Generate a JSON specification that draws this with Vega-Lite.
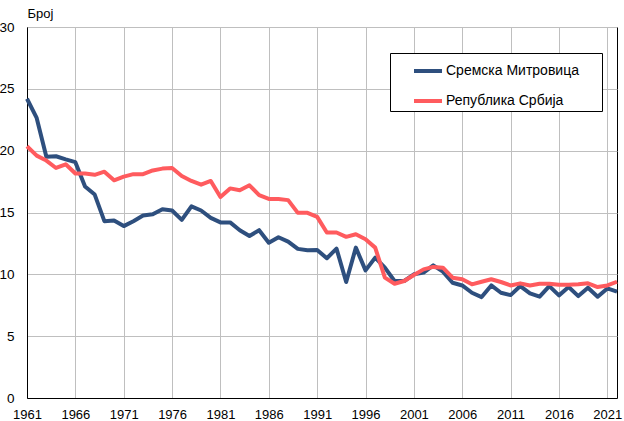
{
  "$schema": "https://vega.github.io/schema/vega-lite/v6.json",
  "width": 590,
  "height": 371,
  "autosize": "none",
  "padding": {"left": 27, "top": 27, "right": 7, "bottom": 23},
  "background": "white",
  "config": {
    "font": "Liberation Sans",
    "view": {"stroke": "black", "strokeWidth": 1}
  },
  "data": {
    "values": [
      {"year":1961,"s":"Сремска Митровица","v":24.2},{"year":1962,"s":"Сремска Митровица","v":22.65},{"year":1963,"s":"Сремска Митровица","v":19.5},{"year":1964,"s":"Сремска Митровица","v":19.55},{"year":1965,"s":"Сремска Митровица","v":19.3},{"year":1966,"s":"Сремска Митровица","v":19.07},{"year":1967,"s":"Сремска Митровица","v":17.1},{"year":1968,"s":"Сремска Митровица","v":16.45},{"year":1969,"s":"Сремска Митровица","v":14.3},{"year":1970,"s":"Сремска Митровица","v":14.35},
      {"year":1971,"s":"Сремска Митровица","v":13.9},{"year":1972,"s":"Сремска Митровица","v":14.3},{"year":1973,"s":"Сремска Митровица","v":14.75},{"year":1974,"s":"Сремска Митровица","v":14.85},{"year":1975,"s":"Сремска Митровица","v":15.27},{"year":1976,"s":"Сремска Митровица","v":15.16},{"year":1977,"s":"Сремска Митровица","v":14.4},{"year":1978,"s":"Сремска Митровица","v":15.5},{"year":1979,"s":"Сремска Митровица","v":15.16},{"year":1980,"s":"Сремска Митровица","v":14.57},
      {"year":1981,"s":"Сремска Митровица","v":14.2},{"year":1982,"s":"Сремска Митровица","v":14.2},{"year":1983,"s":"Сремска Митровица","v":13.57},{"year":1984,"s":"Сремска Митровица","v":13.1},{"year":1985,"s":"Сремска Митровица","v":13.57},{"year":1986,"s":"Сремска Митровица","v":12.55},{"year":1987,"s":"Сремска Митровица","v":13.0},{"year":1988,"s":"Сремска Митровица","v":12.65},{"year":1989,"s":"Сремска Митровица","v":12.06},{"year":1990,"s":"Сремска Митровица","v":11.95},
      {"year":1991,"s":"Сремска Митровица","v":11.97},{"year":1992,"s":"Сремска Митровица","v":11.3},{"year":1993,"s":"Сремска Митровица","v":12.08},{"year":1994,"s":"Сремска Митровица","v":9.38},{"year":1995,"s":"Сремска Митровица","v":12.16},{"year":1996,"s":"Сремска Митровица","v":10.32},{"year":1997,"s":"Сремска Митровица","v":11.35},{"year":1998,"s":"Сремска Митровица","v":10.54},{"year":1999,"s":"Сремска Митровица","v":9.46},{"year":2000,"s":"Сремска Митровица","v":9.46},
      {"year":2001,"s":"Сремска Митровица","v":10.0},{"year":2002,"s":"Сремска Митровица","v":10.14},{"year":2003,"s":"Сремска Митровица","v":10.73},{"year":2004,"s":"Сремска Митровица","v":10.22},{"year":2005,"s":"Сремска Митровица","v":9.32},{"year":2006,"s":"Сремска Митровица","v":9.1},{"year":2007,"s":"Сремска Митровица","v":8.51},{"year":2008,"s":"Сремска Митровица","v":8.16},{"year":2009,"s":"Сремска Митровица","v":9.1},{"year":2010,"s":"Сремска Митровица","v":8.51},
      {"year":2011,"s":"Сремска Митровица","v":8.32},{"year":2012,"s":"Сремска Митровица","v":9.05},{"year":2013,"s":"Сремска Митровица","v":8.46},{"year":2014,"s":"Сремска Митровица","v":8.19},{"year":2015,"s":"Сремска Митровица","v":9.05},{"year":2016,"s":"Сремска Митровица","v":8.3},{"year":2017,"s":"Сремска Митровица","v":8.97},{"year":2018,"s":"Сремска Митровица","v":8.24},{"year":2019,"s":"Сремска Митровица","v":8.92},{"year":2020,"s":"Сремска Митровица","v":8.19},{"year":2021,"s":"Сремска Митровица","v":8.86},{"year":2022,"s":"Сремска Митровица","v":8.6},
      {"year":1961,"s":"Република Србија","v":20.36},{"year":1962,"s":"Република Србија","v":19.6},{"year":1963,"s":"Република Србија","v":19.2},{"year":1964,"s":"Република Србија","v":18.6},{"year":1965,"s":"Република Србија","v":18.9},{"year":1966,"s":"Република Србија","v":18.15},{"year":1967,"s":"Република Србија","v":18.15},{"year":1968,"s":"Република Србија","v":18.05},{"year":1969,"s":"Република Србија","v":18.3},{"year":1970,"s":"Република Србија","v":17.6},
      {"year":1971,"s":"Република Србија","v":17.9},{"year":1972,"s":"Република Србија","v":18.1},{"year":1973,"s":"Република Србија","v":18.1},{"year":1974,"s":"Република Србија","v":18.4},{"year":1975,"s":"Република Србија","v":18.55},{"year":1976,"s":"Република Србија","v":18.6},{"year":1977,"s":"Република Србија","v":17.95},{"year":1978,"s":"Република Србија","v":17.55},{"year":1979,"s":"Република Србија","v":17.25},{"year":1980,"s":"Република Србија","v":17.55},
      {"year":1981,"s":"Република Србија","v":16.25},{"year":1982,"s":"Република Србија","v":16.95},{"year":1983,"s":"Република Србија","v":16.8},{"year":1984,"s":"Република Србија","v":17.2},{"year":1985,"s":"Република Србија","v":16.4},{"year":1986,"s":"Република Србија","v":16.1},{"year":1987,"s":"Република Србија","v":16.1},{"year":1988,"s":"Република Србија","v":16.0},{"year":1989,"s":"Република Србија","v":14.97},{"year":1990,"s":"Република Србија","v":14.97},
      {"year":1991,"s":"Република Србија","v":14.65},{"year":1992,"s":"Република Србија","v":13.38},{"year":1993,"s":"Република Србија","v":13.38},{"year":1994,"s":"Република Србија","v":13.03},{"year":1995,"s":"Република Србија","v":13.24},{"year":1996,"s":"Република Србија","v":12.84},{"year":1997,"s":"Република Србија","v":12.16},{"year":1998,"s":"Република Србија","v":9.73},{"year":1999,"s":"Република Србија","v":9.24},{"year":2000,"s":"Република Србија","v":9.46},
      {"year":2001,"s":"Република Србија","v":9.95},{"year":2002,"s":"Република Србија","v":10.4},{"year":2003,"s":"Република Србија","v":10.6},{"year":2004,"s":"Република Србија","v":10.54},{"year":2005,"s":"Република Србија","v":9.73},{"year":2006,"s":"Република Србија","v":9.6},{"year":2007,"s":"Република Србија","v":9.19},{"year":2008,"s":"Република Србија","v":9.4},{"year":2009,"s":"Република Србија","v":9.6},{"year":2010,"s":"Република Србија","v":9.38},
      {"year":2011,"s":"Република Србија","v":9.1},{"year":2012,"s":"Република Србија","v":9.27},{"year":2013,"s":"Република Србија","v":9.1},{"year":2014,"s":"Република Србија","v":9.24},{"year":2015,"s":"Република Србија","v":9.24},{"year":2016,"s":"Република Србија","v":9.16},{"year":2017,"s":"Република Србија","v":9.16},{"year":2018,"s":"Република Србија","v":9.19},{"year":2019,"s":"Република Србија","v":9.27},{"year":2020,"s":"Република Србија","v":8.97},{"year":2021,"s":"Република Србија","v":9.1},{"year":2022,"s":"Република Србија","v":9.4}
    ]
  },
  "mark": {"type": "line", "strokeWidth": 4, "strokeJoin": "round", "strokeCap": "butt"},
  "encoding": {
    "x": {
      "field": "year", "type": "quantitative",
      "scale": {"domain": [1961, 2022], "nice": false, "zero": false},
      "axis": {
        "title": null,
        "values": [1961,1966,1971,1976,1981,1986,1991,1996,2001,2006,2011,2016,2021],
        "format": "d",
        "grid": true, "gridColor": "#BFBFBF", "gridWidth": 1,
        "domainColor": "black", "domainWidth": 1,
        "ticks": false,
        "labelFontSize": 13, "labelColor": "black", "labelPadding": 10,
        "labelFlush": false
      }
    },
    "y": {
      "field": "v", "type": "quantitative",
      "scale": {"domain": [0, 30], "nice": false},
      "axis": {
        "title": "Број",
        "titleAngle": 0, "titleAlign": "left", "titleBaseline": "alphabetic",
        "titleX": 0, "titleY": -10,
        "titleFontSize": 13, "titleFontWeight": "normal", "titleColor": "black",
        "values": [0,5,10,15,20,25,30],
        "grid": true, "gridColor": "#BFBFBF", "gridWidth": 1,
        "domainColor": "black", "domainWidth": 1,
        "ticks": false,
        "labelFontSize": 13.5, "labelColor": "black", "labelPadding": 13
      }
    },
    "color": {
      "field": "s", "type": "nominal",
      "scale": {"domain": ["Сремска Митровица", "Република Србија"], "range": ["#2E4F7E", "#FF5B5E"]},
      "sort": ["Сремска Митровица", "Република Србија"],
      "legend": {
        "title": null,
        "orient": "none",
        "legendX": 363,
        "legendY": 26,
        "fillColor": "white",
        "strokeColor": "black",
        "padding": 2,
        "symbolOffset": 20,
        "symbolType": "stroke",
        "symbolSize": 784,
        "symbolStrokeWidth": 4,
        "labelFontSize": 14,
        "labelColor": "black",
        "labelOffset": 2,
        "rowPadding": 6,
        "labelLimit": 300,
        "labelExpr": "datum.label + '\u2002\u2002\u2002\u200b'"
      }
    }
  }
}
